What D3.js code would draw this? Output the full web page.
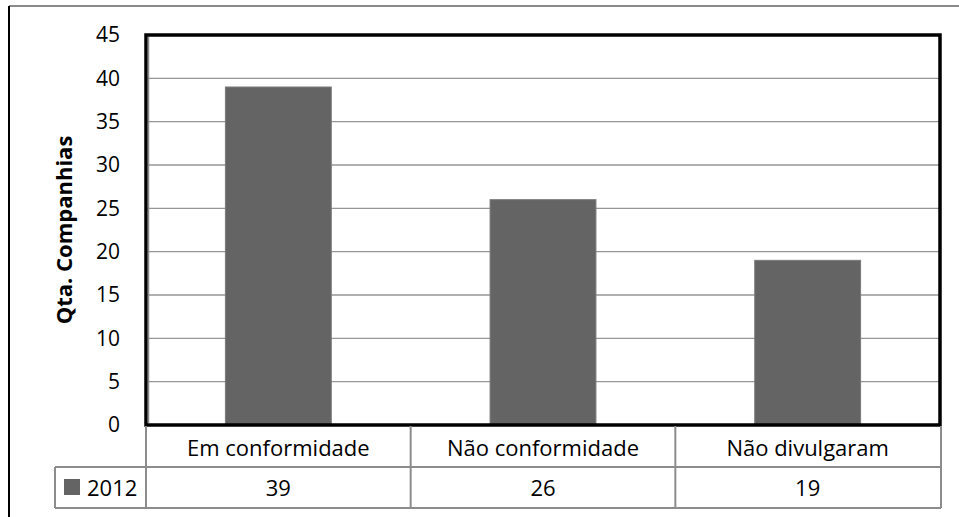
<!DOCTYPE html>
<html>
<head>
<meta charset="utf-8">
<script src="https://cdn.jsdelivr.net/npm/d3@7"></script>
<style>
  html, body { margin: 0; padding: 0; background: #fff; }
  svg { display: block; font-family: "Open Sans", Lato, sans-serif; }
</style>
</head>
<body>
<svg id="chart" width="959" height="517"></svg>
<script>
// Companies by disclosure status, 2012
const categories = ["Em conformidade", "Não conformidade", "Não divulgaram"];
const seriesName = "2012";
const values = [39, 26, 19];
const yTicks = [0, 5, 10, 15, 20, 25, 30, 35, 40, 45];
const yTitle = "Qta. Companhias";

const svg = d3.select("#chart");
const plot = { left: 146, right: 940, top: 35, bottom: 425 };
const tableLeft = 55;
const rowH = 41;
const barColor = "#646464";
const fontSize = 22;

const x = d3.scaleBand().domain(categories).range([plot.left, plot.right]).paddingInner(0.6).paddingOuter(0.3);
const xCol = d3.scaleBand().domain(categories).range([plot.left, plot.right]);
const y = d3.scaleLinear().domain([0, 45]).range([plot.bottom, plot.top]);

// outer frame
svg.append("line").attr("x1", 9).attr("x2", 959).attr("y1", 6).attr("y2", 6)
  .attr("stroke", "#8a8a8a").attr("stroke-width", 2);
svg.append("line").attr("x1", 9).attr("x2", 9).attr("y1", 6).attr("y2", 517)
  .attr("stroke", "#000").attr("stroke-width", 2);

// gridlines
svg.append("g").selectAll("line").data(yTicks).join("line")
  .attr("x1", plot.left).attr("x2", plot.right)
  .attr("y1", d => y(d)).attr("y2", d => y(d))
  .attr("stroke", "#969696").attr("stroke-width", 1.3);

// bars
svg.append("g").selectAll("rect").data(values).join("rect")
  .attr("x", (d, i) => x(categories[i]))
  .attr("width", x.bandwidth())
  .attr("y", d => y(d))
  .attr("height", d => y(0) - y(d))
  .attr("fill", barColor)
  .attr("stroke", "#7a7a7a").attr("stroke-width", 1);

// plot frame
svg.append("rect")
  .attr("x", plot.left).attr("y", plot.top)
  .attr("width", plot.right - plot.left).attr("height", plot.bottom - plot.top)
  .attr("fill", "none").attr("stroke", "#000").attr("stroke-width", 3.5);
svg.append("line").attr("x1", plot.left + 2.5).attr("x2", plot.left + 2.5)
  .attr("y1", plot.top + 2).attr("y2", plot.bottom - 2)
  .attr("stroke", "#8a8a8a").attr("stroke-width", 1.5);

// y axis labels
const yAxis = d3.axisLeft(y).tickValues(yTicks).tickSize(0).tickPadding(26);
const gy = svg.append("g").attr("transform", `translate(${plot.left},0)`).call(yAxis);
gy.select(".domain").remove();
gy.selectAll("text").attr("font-size", 21).attr("fill", "#000")
  .attr("font-family", "'Open Sans', Lato, sans-serif");

// y axis title
svg.append("text")
  .attr("transform", `translate(72,${(plot.top + plot.bottom) / 2}) rotate(-90)`)
  .attr("text-anchor", "middle")
  .attr("font-size", 22).attr("font-weight", "bold")
  .text(yTitle);

// data table
const tbl = svg.append("g").attr("stroke", "#8c8c8c").attr("stroke-width", 2).attr("fill", "none");
const r1 = plot.bottom + 1, r2 = r1 + rowH, r3 = r2 + rowH;
tbl.append("line").attr("x1", tableLeft).attr("x2", plot.right + 1).attr("y1", r2).attr("y2", r2);
tbl.append("line").attr("x1", tableLeft).attr("x2", plot.right + 1).attr("y1", r3).attr("y2", r3);
tbl.append("line").attr("x1", tableLeft).attr("x2", tableLeft).attr("y1", r2).attr("y2", r3);
tbl.selectAll(".vcol").data(categories.concat(["end"])).join("line")
  .attr("x1", (d, i) => i < categories.length ? xCol(d) : plot.right + 1)
  .attr("x2", (d, i) => i < categories.length ? xCol(d) : plot.right + 1)
  .attr("y1", r1).attr("y2", r3);

svg.append("g").selectAll("text").data(categories).join("text")
  .attr("x", d => xCol(d) + xCol.bandwidth() / 2)
  .attr("y", r1 + 30)
  .attr("text-anchor", "middle").attr("font-size", fontSize)
  .text(d => d);

svg.append("g").selectAll("text").data(values).join("text")
  .attr("x", (d, i) => xCol(categories[i]) + xCol.bandwidth() / 2)
  .attr("y", r2 + 29)
  .attr("text-anchor", "middle").attr("font-size", fontSize)
  .text(d => d);

// legend key in the table
svg.append("rect").attr("x", tableLeft + 9).attr("y", r2 + 12).attr("width", 16).attr("height", 16)
  .attr("fill", barColor);
svg.append("text").attr("x", tableLeft + 32).attr("y", r2 + 29).attr("font-size", fontSize).text(seriesName);
</script>
</body>
</html>
